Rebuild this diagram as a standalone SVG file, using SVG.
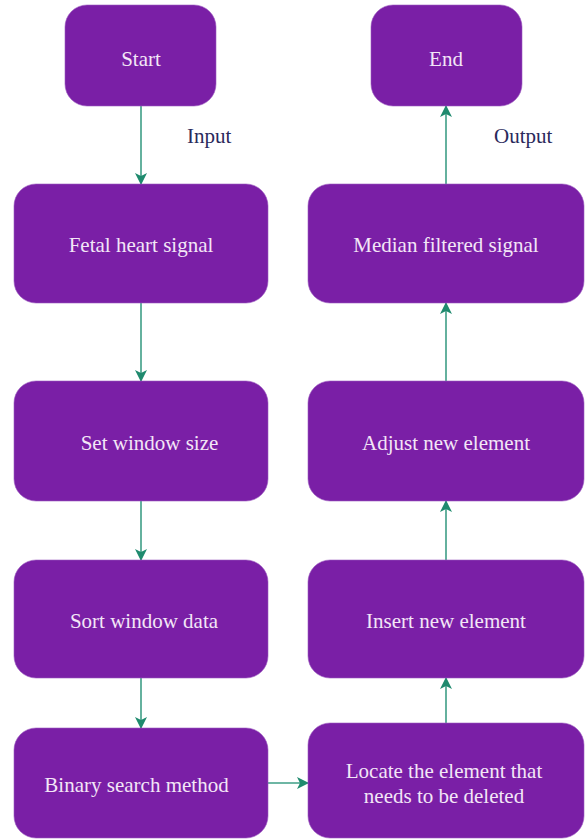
<svg xmlns="http://www.w3.org/2000/svg" width="586" height="839" viewBox="0 0 586 839">
<style>
.box{fill:#7A1FA6;stroke:#9C5BC0;stroke-width:0.6}
.t{font-family:"Liberation Serif","Times New Roman",serif;font-size:21px;fill:#F3E6F7;text-anchor:middle}
.lbl{font-family:"Liberation Serif","Times New Roman",serif;font-size:21px;fill:#2B2A5C}
.c{stroke:#3E9E86;stroke-width:1.6;fill:none}
</style>
<defs>
<marker id="ah" viewBox="0 0 12 12" refX="11" refY="6" markerWidth="12" markerHeight="12" markerUnits="userSpaceOnUse" orient="auto">
<path d="M0,0 L12,6 L0,12 L3,6 Z" fill="#1F8A6E"/>
</marker>
</defs>
<g id="connectors">
<line class="c" x1="141" y1="106" x2="141" y2="184" marker-end="url(#ah)"/>
<line class="c" x1="141" y1="303" x2="141" y2="381" marker-end="url(#ah)"/>
<line class="c" x1="141" y1="501" x2="141" y2="560" marker-end="url(#ah)"/>
<line class="c" x1="141" y1="678" x2="141" y2="728" marker-end="url(#ah)"/>
<line class="c" x1="268" y1="783" x2="308" y2="783" marker-end="url(#ah)"/>
<line class="c" x1="446" y1="723" x2="446" y2="678" marker-end="url(#ah)"/>
<line class="c" x1="446" y1="560" x2="446" y2="501" marker-end="url(#ah)"/>
<line class="c" x1="446" y1="381" x2="446" y2="303" marker-end="url(#ah)"/>
<line class="c" x1="446" y1="184" x2="446" y2="106" marker-end="url(#ah)"/>
<text class="lbl" x="187" y="143">Input</text>
<text class="lbl" x="494" y="143">Output</text>
</g>
<g id="start"><rect class="box" x="65" y="5" width="151" height="101" rx="22"/><text class="t" x="141" y="66">Start</text></g>
<g id="fetal"><rect class="box" x="14" y="184" width="254" height="119" rx="22"/><text class="t" x="141" y="252">Fetal heart signal</text></g>
<g id="window"><rect class="box" x="14" y="381" width="254" height="120" rx="22"/><text class="t" x="149.5" y="450">Set window size</text></g>
<g id="sort"><rect class="box" x="14" y="560" width="254" height="118" rx="22"/><text class="t" x="144" y="628">Sort window data</text></g>
<g id="binary"><rect class="box" x="14" y="728" width="254" height="110" rx="22"/><text class="t" x="136.5" y="792">Binary search method</text></g>
<g id="end"><rect class="box" x="371" y="5" width="151" height="101" rx="22"/><text class="t" x="446" y="66">End</text></g>
<g id="median"><rect class="box" x="308" y="184" width="276" height="119" rx="22"/><text class="t" x="446" y="252">Median filtered signal</text></g>
<g id="adjust"><rect class="box" x="308" y="381" width="276" height="120" rx="22"/><text class="t" x="446" y="450">Adjust new element</text></g>
<g id="insert"><rect class="box" x="308" y="560" width="276" height="118" rx="22"/><text class="t" x="446" y="628">Insert new element</text></g>
<g id="locate"><rect class="box" x="308" y="723" width="276" height="115" rx="22"/><text class="t" x="444" y="778">Locate the element that</text><text class="t" x="444" y="803">needs to be deleted</text></g>
</svg>
